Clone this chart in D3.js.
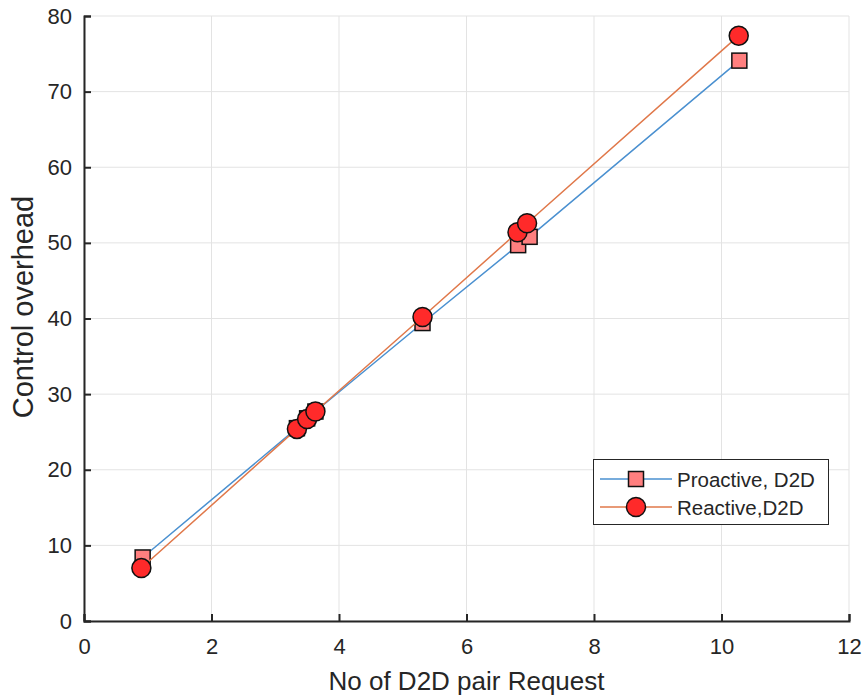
<!DOCTYPE html>
<html>
<head>
<meta charset="utf-8">
<script src="https://cdn.jsdelivr.net/npm/d3@7"></script>
<style>
body { margin: 0; background: #fff; }
text { font-family: "Liberation Sans", Arial, sans-serif; fill: #262626; }
</style>
</head>
<body>
<svg id="chart" width="865" height="698"></svg>
<script>
// values
var proX = [0.92, 3.34, 3.50, 3.63, 5.31, 6.81, 6.99, 10.28];
var proY = [8.4, 25.5, 26.8, 27.7, 39.4, 49.7, 50.8, 74.1];
var reX = [0.90, 3.34, 3.50, 3.63, 5.31, 6.80, 6.95, 10.27];
var reY = [7.0, 25.4, 26.7, 27.7, 40.2, 51.4, 52.6, 77.4];
var xTicks = [0, 2, 4, 6, 8, 10, 12];
var yTicks = [0, 10, 20, 30, 40, 50, 60, 70, 80];
var seriesNames = ['Proactive, D2D', 'Reactive,D2D'];

var svg = d3.select('#chart');
var mLeft = 84, mRight = 849, mTop = 16, mBottom = 621;

var x = d3.scaleLinear().domain([0, 12]).range([mLeft, mRight]);
var y = d3.scaleLinear().domain([0, 80]).range([mBottom, mTop]);

// grid
var grid = svg.append('g');
xTicks.forEach(function(t) {
	grid.append('line')
		.attr('x1', x(t)).attr('x2', x(t))
		.attr('y1', mTop).attr('y2', mBottom)
		.style('stroke', '#e3e3e3').style('stroke-width', 1);
});
yTicks.forEach(function(t) {
	grid.append('line')
		.attr('x1', mLeft).attr('x2', mRight)
		.attr('y1', y(t)).attr('y2', y(t))
		.style('stroke', '#e3e3e3').style('stroke-width', 1);
});

// axes
var xAxis = svg.append('g')
	.attr('transform', 'translate(0,' + mBottom + ')')
	.call(d3.axisBottom(x).tickValues(xTicks).tickSize(-7).tickPadding(17).tickFormat(d3.format('d')));
var yAxis = svg.append('g')
	.attr('transform', 'translate(' + mLeft + ',0)')
	.call(d3.axisLeft(y).tickValues(yTicks).tickSize(-7).tickPadding(12).tickFormat(d3.format('d')));
[xAxis, yAxis].forEach(function(a) {
	a.select('.domain').style('stroke', '#262626').style('stroke-width', 2);
	a.selectAll('.tick line').style('stroke', '#262626').style('stroke-width', 2);
	a.selectAll('.tick text').style('font-size', '22px').style('fill', '#262626')
		.style('font-family', '"Liberation Sans", Arial, sans-serif');
});

svg.append('text')
	.attr('x', (mLeft + mRight) / 2).attr('y', 690)
	.style('text-anchor', 'middle').style('font-size', '26px')
	.text('No of D2D pair Request');
svg.append('text')
	.attr('transform', 'translate(33,307) rotate(-90)')
	.style('text-anchor', 'middle').style('font-size', '29px')
	.text('Control overhead');

var line = d3.line().x(function(d) { return x(d[0]); }).y(function(d) { return y(d[1]); });
var pro = proX.map(function(v, i) { return [v, proY[i]]; });
var re = reX.map(function(v, i) { return [v, reY[i]]; });

var blue = '#4a90d0', orange = '#e0784a';
var sq = 15, rad = 9.5;

svg.append('path').datum(pro).attr('d', line)
	.style('fill', 'none').style('stroke', blue).style('stroke-width', 1.5);
svg.selectAll('.sq').data(pro).enter().append('rect')
	.attr('class', 'sq')
	.attr('x', function(d) { return x(d[0]) - sq / 2; })
	.attr('y', function(d) { return y(d[1]) - sq / 2; })
	.attr('width', sq).attr('height', sq)
	.style('fill', '#ff7f7f').style('stroke', '#111').style('stroke-width', 1.5);

svg.append('path').datum(re).attr('d', line)
	.style('fill', 'none').style('stroke', orange).style('stroke-width', 1.5);
svg.selectAll('.ci').data(re).enter().append('circle')
	.attr('class', 'ci')
	.attr('cx', function(d) { return x(d[0]); })
	.attr('cy', function(d) { return y(d[1]); })
	.attr('r', rad)
	.style('fill', '#ff2a2a').style('stroke', '#111').style('stroke-width', 1.5);

// legend
var lg = svg.append('g');
lg.append('rect')
	.attr('x', 593.5).attr('y', 459.5).attr('width', 235).attr('height', 65)
	.style('fill', '#fff').style('stroke', '#262626').style('stroke-width', 1);
var rows = [479, 507];
seriesNames.forEach(function(name, i) {
	lg.append('line')
		.attr('x1', 600).attr('x2', 672).attr('y1', rows[i]).attr('y2', rows[i])
		.style('stroke', i == 0 ? blue : orange).style('stroke-width', 1.5);
	if (i == 0) {
		lg.append('rect')
			.attr('x', 636 - sq / 2).attr('y', rows[i] - sq / 2)
			.attr('width', sq).attr('height', sq)
			.style('fill', '#ff7f7f').style('stroke', '#111').style('stroke-width', 1.5);
	} else {
		lg.append('circle')
			.attr('cx', 636).attr('cy', rows[i]).attr('r', rad)
			.style('fill', '#ff2a2a').style('stroke', '#111').style('stroke-width', 1.5);
	}
	lg.append('text')
		.attr('x', 677).attr('y', rows[i] + 7.5)
		.style('font-size', '20.5px')
		.text(name);
});
</script>
</body>
</html>
